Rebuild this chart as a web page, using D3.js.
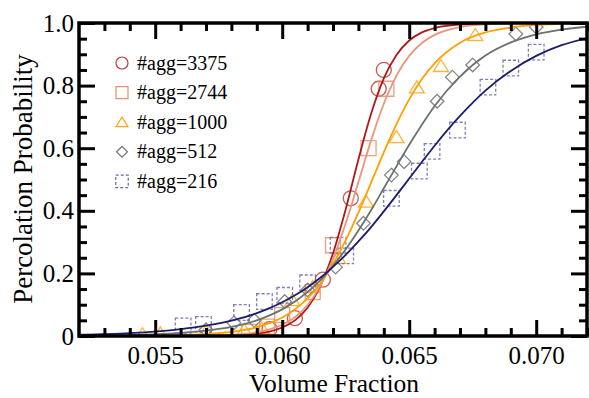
<!DOCTYPE html>
<html>
<head>
<meta charset="utf-8">
<script src="https://cdn.jsdelivr.net/npm/d3@7"></script>
<style>
  html, body { margin: 0; padding: 0; background: #fff; }
  svg { display: block; }
</style>
</head>
<body>
<div id="chart"></div>
<script>
// fitted curves
const fitX = [0.052, 0.054, 0.056, 0.057, 0.058, 0.059, 0.0595, 0.060, 0.0605, 0.061, 0.0615, 0.062, 0.0625,
              0.063, 0.0635, 0.064, 0.0645, 0.065, 0.0655, 0.066, 0.067, 0.068, 0.069, 0.070, 0.071, 0.072];
const fit3375 = [0.000, 0.000, 0.0002, 0.0006, 0.002, 0.008, 0.014, 0.027, 0.050, 0.090, 0.159, 0.264, 0.405,
                 0.564, 0.710, 0.823, 0.898, 0.944, 0.970, 0.984, 0.995, 0.998, 0.9996, 0.9999, 1.0, 1.0];
const fit2744 = [0.000, 0.0001, 0.0005, 0.0014, 0.004, 0.012, 0.021, 0.036, 0.060, 0.099, 0.160, 0.246, 0.360,
                 0.492, 0.625, 0.742, 0.832, 0.895, 0.936, 0.962, 0.987, 0.9955, 0.9985, 0.9995, 0.9998, 0.9999];
const fit1000 = [0.0001, 0.0006, 0.0027, 0.006, 0.013, 0.028, 0.041, 0.059, 0.085, 0.120, 0.168, 0.230, 0.306,
                 0.394, 0.490, 0.587, 0.677, 0.756, 0.821, 0.871, 0.937, 0.970, 0.986, 0.994, 0.997, 0.9986];
const fit512 = [0.001, 0.003, 0.010, 0.017, 0.029, 0.050, 0.066, 0.085, 0.110, 0.141, 0.178, 0.224, 0.277,
                0.337, 0.402, 0.472, 0.542, 0.611, 0.675, 0.735, 0.829, 0.896, 0.938, 0.964, 0.979, 0.988];
const fit216 = [0.004, 0.009, 0.022, 0.033, 0.049, 0.073, 0.089, 0.108, 0.130, 0.156, 0.186, 0.221, 0.259,
                0.302, 0.348, 0.398, 0.450, 0.503, 0.556, 0.608, 0.703, 0.784, 0.847, 0.895, 0.929, 0.952];

// measured points
const vf3375 = [0.0595, 0.0605, 0.0616, 0.0627, 0.0638, 0.0640];
const p3375 = [0.022, 0.057, 0.18, 0.44, 0.79, 0.85];
const vf2744 = [0.0587, 0.0594, 0.0600, 0.0612, 0.0620, 0.0634, 0.0641];
const p2744 = [0.013, 0.03, 0.067, 0.14, 0.29, 0.60, 0.79];
const vf1000 = [0.0545, 0.0552, 0.0570, 0.0585, 0.0592, 0.0604, 0.0612, 0.0622, 0.0633, 0.0645, 0.0653, 0.06625, 0.0676];
const p1000 = [0.006, 0.009, 0.015, 0.02, 0.025, 0.115, 0.157, 0.25, 0.43, 0.636, 0.795, 0.863, 0.962];
const vf512 = [0.0570, 0.0581, 0.0589, 0.0601, 0.0610, 0.0621, 0.0632, 0.0643, 0.0648, 0.0661, 0.0667, 0.0675, 0.0692, 0.0700];
const p512 = [0.02, 0.042, 0.05, 0.11, 0.147, 0.22, 0.36, 0.514, 0.557, 0.75, 0.827, 0.866, 0.965, 0.987];
const vf216 = [0.0561, 0.0569, 0.0584, 0.0593, 0.0601, 0.0610, 0.0622, 0.0625, 0.0643, 0.0654, 0.0659, 0.0669, 0.0681, 0.0690, 0.0700];
const p216 = [0.032, 0.037, 0.075, 0.11, 0.13, 0.17, 0.29, 0.256, 0.44, 0.527, 0.59, 0.658, 0.795, 0.856, 0.907];

const legendLabels = ['#agg=3375', '#agg=2744', '#agg=1000', '#agg=512', '#agg=216'];
const xTicks = [0.055, 0.060, 0.065, 0.070];
const yTicks = [0, 0.2, 0.4, 0.6, 0.8, 1.0];

const W = 589, H = 398;
const FONT = '"Liberation Serif", "Times New Roman", serif';

const series = [
  { label: legendLabels[0], fit: fit3375, vf: vf3375, p: p3375, line: '#b01818', mark: '#c43a3a', shape: 'circle' },
  { label: legendLabels[1], fit: fit2744, vf: vf2744, p: p2744, line: '#e9967a', mark: '#e8906c', shape: 'square' },
  { label: legendLabels[2], fit: fit1000, vf: vf1000, p: p1000, line: '#ffa000', mark: '#ffa31a', shape: 'triangle' },
  { label: legendLabels[3], fit: fit512, vf: vf512, p: p512, line: '#6a736c', mark: '#707070', shape: 'diamond' },
  { label: legendLabels[4], fit: fit216, vf: vf216, p: p216, line: '#1c1c6c', mark: '#6a6aa2', shape: 'dsquare' },
];

// marker outlines, s = half size
function shapePath(shape, s) {
  if (shape === 'circle') {
    return `M${s},0A${s},${s} 0 1,1 ${-s},0A${s},${s} 0 1,1 ${s},0Z`;
  }
  if (shape === 'square' || shape === 'dsquare') {
    return `M${-s},${-s}H${s}V${s}H${-s}Z`;
  }
  if (shape === 'triangle') {
    return `M0,${-s * 0.85}L${s},${s * 0.75}L${-s},${s * 0.75}Z`;
  }
  return `M0,${-s}L${s},0L0,${s}L${-s},0Z`;
}
const markSize = { circle: 7.5, square: 7.5, triangle: 7.5, diamond: 6.8, dsquare: 7.8 };

const svg = d3.select('#chart').append('svg')
  .attr('width', W).attr('height', H);

const x = d3.scaleLinear().domain([0.052, 0.072]).range([79, 587]);
const y = d3.scaleLinear().domain([0, 1]).range([336, 23]);

svg.append('defs').append('clipPath').attr('id', 'plot-clip')
  .append('rect')
  .attr('x', 79).attr('y', 23).attr('width', 508).attr('height', 313);

const plot = svg.append('g').attr('clip-path', 'url(#plot-clip)');

// markers
series.forEach(s => {
  const pts = s.vf.map((v, i) => [v, s.p[i]]);
  plot.append('g').selectAll('path')
    .data(pts)
    .join('path')
    .attr('transform', d => `translate(${x(d[0])},${y(d[1])})`)
    .attr('d', shapePath(s.shape, markSize[s.shape]))
    .attr('fill', 'none')
    .attr('stroke', s.mark)
    .attr('stroke-width', 1.3)
    .attr('stroke-opacity', 0.85)
    .attr('stroke-dasharray', s.shape === 'dsquare' ? '3,2' : null);
});

// fit curves
const line = d3.line()
  .x(d => x(d[0]))
  .y(d => y(d[1]))
  .curve(d3.curveMonotoneX);

series.forEach(s => {
  plot.append('path')
    .datum(fitX.map((v, i) => [v, s.fit[i]]))
    .attr('d', line)
    .attr('fill', 'none')
    .attr('stroke', s.line)
    .attr('stroke-width', 1.8);
});

// axes: major + minor ticks pointing inward on all four sides
const xMinor = d3.range(0.053, 0.0725, 0.001).filter(v => !xTicks.some(t => Math.abs(t - v) < 1e-6));
const yMinor = d3.range(0.05, 1.0, 0.05).filter(v => !yTicks.some(t => Math.abs(t - v) < 1e-6));
const MAJ = 16, MIN = 8;

function styleTicks(g) {
  g.select('.domain').remove();
  g.selectAll('line').attr('stroke', '#000').attr('stroke-width', 3);
}

svg.append('g').attr('transform', 'translate(0,336)')
  .call(d3.axisBottom(x).tickValues(xTicks).tickSize(-MAJ).tickFormat(d3.format('.3f')))
  .call(styleTicks)
  .call(g => g.selectAll('text')
    .attr('y', 19).attr('dy', '0.35em')
    .attr('font-family', FONT).attr('font-size', 25).attr('fill', '#000'));
svg.append('g').attr('transform', 'translate(0,336)')
  .call(d3.axisBottom(x).tickValues(xMinor).tickSize(-MIN).tickFormat(''))
  .call(styleTicks);
svg.append('g').attr('transform', 'translate(0,23)')
  .call(d3.axisTop(x).tickValues(xTicks).tickSize(-MAJ).tickFormat(''))
  .call(styleTicks);
svg.append('g').attr('transform', 'translate(0,23)')
  .call(d3.axisTop(x).tickValues(xMinor).tickSize(-MIN).tickFormat(''))
  .call(styleTicks);

svg.append('g').attr('transform', 'translate(79,0)')
  .call(d3.axisLeft(y).tickValues(yTicks).tickSize(-MAJ).tickPadding(5)
    .tickFormat(d => d === 0 ? '0' : d3.format('.1f')(d)))
  .call(styleTicks)
  .call(g => g.selectAll('text')
    .attr('font-family', FONT).attr('font-size', 25).attr('fill', '#000'));
svg.append('g').attr('transform', 'translate(79,0)')
  .call(d3.axisLeft(y).tickValues(yMinor).tickSize(-MIN).tickFormat(''))
  .call(styleTicks);
svg.append('g').attr('transform', 'translate(587,0)')
  .call(d3.axisRight(y).tickValues(yTicks).tickSize(-MAJ).tickFormat(''))
  .call(styleTicks);
svg.append('g').attr('transform', 'translate(587,0)')
  .call(d3.axisRight(y).tickValues(yMinor).tickSize(-MIN).tickFormat(''))
  .call(styleTicks);

// frame
svg.append('rect')
  .attr('x', 79).attr('y', 23).attr('width', 508).attr('height', 313)
  .attr('fill', 'none').attr('stroke', '#000').attr('stroke-width', 3.5);

// axis titles
svg.append('text')
  .attr('x', 334).attr('y', 392)
  .attr('text-anchor', 'middle')
  .attr('font-family', FONT).attr('font-size', 25.5)
  .text('Volume Fraction');
svg.append('text')
  .attr('transform', 'translate(32,179) rotate(-90)')
  .attr('text-anchor', 'middle')
  .attr('font-family', FONT).attr('font-size', 27)
  .text('Percolation Probability');

// legend
const legend = svg.append('g');
series.forEach((s, i) => {
  const ly = 63 + i * 29.6;
  legend.append('path')
    .attr('transform', `translate(122,${ly})`)
    .attr('d', shapePath(s.shape, markSize[s.shape] * 0.8))
    .attr('fill', 'none')
    .attr('stroke', s.mark)
    .attr('stroke-width', 1.2)
    .attr('stroke-dasharray', s.shape === 'dsquare' ? '3,2' : null);
  legend.append('text')
    .attr('x', 137).attr('y', ly)
    .attr('dy', '0.33em')
    .attr('font-family', FONT).attr('font-size', 20)
    .text(s.label);
});
</script>
</body>
</html>
